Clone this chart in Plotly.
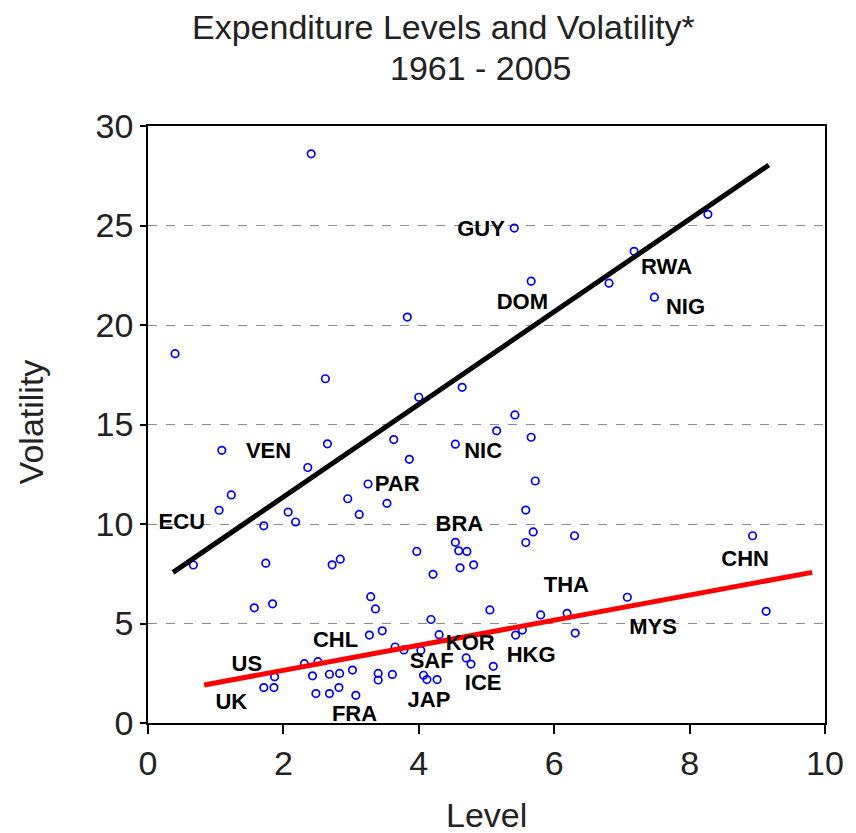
import plotly.graph_objects as go

# Country observations: average expenditure level vs. volatility
level = [
    2.41, 0.40, 2.62, 3.83, 4.00, 4.64, 5.41, 8.27, 7.18, 6.81, 5.66, 7.48,
    5.42, 5.15, 5.66, 5.72, 5.58, 5.69, 5.58, 6.30, 8.93,
    1.09, 2.65, 3.63, 4.54, 2.36, 3.86, 3.25, 1.23, 2.95, 3.53, 1.05, 2.07,
    3.12, 2.18, 1.71, 0.67, 1.74, 2.72, 2.84, 3.97, 4.54, 4.59, 4.71, 4.61,
    4.81, 4.21, 1.57, 1.84, 3.29, 3.36, 4.18, 3.27, 3.46, 4.30,
    1.87, 1.71, 1.86, 2.31, 2.51, 2.43, 2.48, 2.68, 2.82, 2.68, 2.83, 3.02,
    3.07, 3.40, 3.40, 3.61, 3.65, 3.78, 4.03, 4.07, 4.12, 4.27, 4.70, 4.77,
    5.10, 5.05, 5.80, 6.19, 7.08, 9.13, 5.43, 5.53, 6.31,
]
volatility = [
    28.60, 18.56, 17.30, 20.40, 16.37, 16.87, 24.87, 25.56, 23.70, 22.10, 22.20, 21.40,
    15.48, 14.68, 14.36, 12.16, 10.70, 9.60, 9.07, 9.41, 9.41,
    13.70, 14.03, 14.24, 14.01, 12.84, 13.25, 12.01, 11.46, 11.27, 11.04, 10.69, 10.60,
    10.48, 10.10, 9.91, 7.94, 8.03, 7.95, 8.23, 8.62, 9.08, 8.65, 8.62, 7.80,
    7.95, 7.47, 5.79, 5.99, 6.35, 5.73, 5.20, 4.42, 4.63, 4.44,
    2.32, 1.78, 1.78, 2.98, 3.08, 2.37, 1.48, 1.48, 1.78, 2.45, 2.49, 2.66,
    1.39, 2.49, 2.16, 2.44, 3.82, 3.67, 3.65, 2.40, 2.18, 2.18, 3.27, 2.96,
    2.85, 5.68, 5.43, 5.51, 6.32, 5.61, 4.42, 4.67, 4.52,
]

# Country codes written beside selected observations
label_names = ["GUY", "RWA", "DOM", "NIG", "VEN", "NIC", "PAR", "ECU", "BRA",
               "CHN", "THA", "MYS", "CHL", "KOR", "HKG", "US", "SAF", "ICE",
               "UK", "JAP", "FRA"]
label_x = [4.92, 7.66, 5.53, 7.94, 1.78, 4.95, 3.68, 0.50, 4.60,
           8.82, 6.18, 7.46, 2.77, 4.76, 5.66, 1.46, 4.19, 4.95,
           1.23, 4.15, 3.05]
label_y = [24.77, 22.86, 21.10, 20.85, 13.57, 13.57, 11.96, 10.05, 9.90,
           8.19, 6.88, 4.77, 4.12, 3.92, 3.32, 2.91, 3.02, 1.91,
           1.00, 1.06, 0.40]

# Upper and lower fitted lines (end points)
upper_x = [0.37, 9.17]
upper_y = [7.57, 28.04]
lower_x = [0.83, 9.81]
lower_y = [1.91, 7.57]

fig = go.Figure()
fig.add_trace(go.Scatter(
    x=level, y=volatility, mode="markers",
    marker=dict(symbol="circle-open", size=7.5, color="#0000ff",
                line=dict(width=1.7, color="#0000ff")),
    hoverinfo="skip",
))
fig.add_trace(go.Scatter(
    x=upper_x, y=upper_y, mode="lines",
    line=dict(color="black", width=5),
))
fig.add_trace(go.Scatter(
    x=lower_x, y=lower_y, mode="lines",
    line=dict(color="#ff0000", width=5),
))
fig.add_trace(go.Scatter(
    x=label_x, y=label_y, mode="text", text=label_names,
    textfont=dict(family="Liberation Sans", size=22, color="black", weight="bold"),
    textposition="middle center",
))

axis_font = dict(family="Liberation Sans", size=34, color="#222222")
title_font = dict(family="Liberation Sans", size=34, color="#222222")

fig.update_layout(
    width=856, height=833,
    margin=dict(l=148, r=23, t=126, b=110),
    paper_bgcolor="white", plot_bgcolor="white",
    showlegend=False,
    xaxis=dict(
        range=[0, 10], dtick=2, tick0=0,
        showgrid=False, zeroline=False,
        showline=True, mirror=True, linecolor="black", linewidth=1.5,
        ticks="outside", ticklen=9, tickcolor="black", tickwidth=1.5,
        tickfont=axis_font,
    ),
    yaxis=dict(
        range=[0, 30], dtick=5, tick0=0,
        showgrid=True, gridcolor="#8c8c8c", gridwidth=1.3, griddash="dash",
        zeroline=False,
        showline=True, mirror=True, linecolor="black", linewidth=1.5,
        ticks="outside", ticklen=6, tickcolor="black", tickwidth=1.5,
        tickfont=axis_font,
    ),
    annotations=[
        dict(text="Expenditure Levels and Volatility*", xref="paper", yref="paper",
             x=(447 - 148) / 685, y=(723 - 27) / 597, xanchor="center", yanchor="middle",
             showarrow=False, font=title_font),
        dict(text="1961 - 2005", xref="paper", yref="paper",
             x=(485 - 148) / 685, y=(723 - 68) / 597, xanchor="center", yanchor="middle",
             showarrow=False, font=title_font),
        dict(text="Level", xref="paper", yref="paper",
             x=(491 - 148) / 685, y=(723 - 815) / 597, xanchor="center", yanchor="middle",
             showarrow=False, font=axis_font),
        dict(text="Volatility", xref="paper", yref="paper",
             x=(30 - 148) / 685, y=(723 - 422) / 597, xanchor="center", yanchor="middle",
             textangle=-90, showarrow=False, font=axis_font),
    ],
)

fig.write_html("out.html")
